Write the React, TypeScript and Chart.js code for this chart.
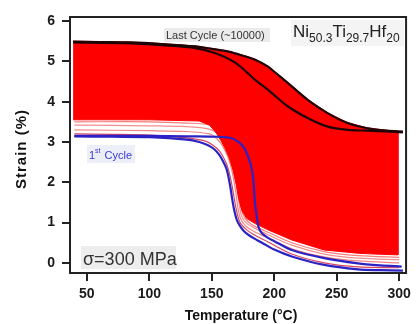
import React, { useEffect, useRef } from "react";
import { Chart, registerables } from "chart.js";

Chart.register(...registerables);

const tempTicks = [50, 100, 150, 200, 250, 300];
const strainTicks = [0, 1, 2, 3, 4, 5, 6];

// 1st cycle (blue)
const firstCoolT = [303, 285, 267, 240, 214, 200, 193, 186, 180, 176, 172.5, 170, 168, 166.5, 164.8, 162, 159, 156, 152, 147, 140, 130, 100, 70, 40];
const firstCoolS = [-0.19, -0.18, -0.16, -0.05, 0.16, 0.33, 0.45, 0.57, 0.68, 0.78, 0.92, 1.07, 1.3, 1.55, 1.89, 2.31, 2.52, 2.68, 2.82, 2.92, 3.0, 3.06, 3.12, 3.13, 3.14];
const firstHeatT = [40, 70, 100, 130, 155, 165, 171, 176, 179, 181.5, 183, 184.6, 186, 187.3, 190, 195, 200, 214, 240, 267, 285, 302];
const firstHeatS = [3.15, 3.15, 3.15, 3.14, 3.13, 3.1, 3.01, 2.85, 2.64, 2.4, 2.14, 1.48, 1.15, 0.9, 0.74, 0.62, 0.54, 0.32, 0.12, -0.01, -0.06, -0.09];

// last cycle (~10000, black)
const lastHeatT = [39, 60, 84, 110, 137, 150, 163.5, 175, 184.7, 195, 200.5, 211, 227, 243, 258.7, 274.6, 290, 303];
const lastHeatS = [5.49, 5.48, 5.47, 5.43, 5.37, 5.31, 5.24, 5.14, 5.04, 4.87, 4.73, 4.46, 4.04, 3.71, 3.47, 3.34, 3.28, 3.26];
const lastCoolT = [303, 290, 274.6, 258.7, 243, 227, 211, 195, 184.7, 169, 153, 137, 110, 80, 39];
const lastCoolS = [3.24, 3.26, 3.28, 3.3, 3.38, 3.59, 3.88, 4.29, 4.54, 4.96, 5.2, 5.33, 5.4, 5.45, 5.47];

// envelope of the intermediate cycles (red band)
const bandT = [39, 60, 84, 110, 137, 150, 163.5, 175, 184.7, 195, 200.5, 211, 227, 243, 258.7, 274.6, 290, 299, 299, 280, 267, 240, 214, 195, 185, 178, 174, 171.5, 169.5, 167, 164, 160.5, 157, 153, 148, 140, 100, 39];
const bandS = [5.5, 5.49, 5.48, 5.44, 5.38, 5.32, 5.25, 5.15, 5.05, 4.88, 4.74, 4.47, 4.05, 3.72, 3.48, 3.35, 3.29, 3.27, 0.2, 0.22, 0.24, 0.32, 0.57, 0.82, 0.97, 1.1, 1.3, 1.6, 1.95, 2.3, 2.6, 2.85, 3.05, 3.25, 3.42, 3.52, 3.55, 3.55];

// early cycles (light red lines)
const earlyAT = [300, 267, 240, 214, 195, 186, 178, 173, 170.5, 168.5, 166, 163, 160, 156, 151, 145, 130, 100, 70, 40];
const earlyAS = [-0.12, -0.1, 0.0, 0.22, 0.52, 0.66, 0.82, 0.98, 1.2, 1.5, 1.95, 2.35, 2.58, 2.78, 2.92, 3.02, 3.1, 3.17, 3.19, 3.2];
const earlyBT = [300, 267, 240, 214, 195, 185, 177, 173, 171, 169, 166, 163, 159, 154, 148, 130, 100, 40];
const earlyBS = [0.0, 0.05, 0.15, 0.35, 0.62, 0.76, 0.92, 1.1, 1.35, 1.8, 2.3, 2.62, 2.88, 3.08, 3.2, 3.26, 3.28, 3.3];
const earlyCT = [300, 267, 240, 214, 195, 185, 178, 174, 172, 170, 167, 164, 160, 155, 148, 130, 100, 40];
const earlyCS = [0.08, 0.12, 0.22, 0.44, 0.7, 0.85, 0.98, 1.15, 1.45, 1.9, 2.35, 2.7, 2.98, 3.2, 3.32, 3.38, 3.4, 3.42];
const earlyDT = [300, 267, 240, 214, 195, 185, 179, 175, 173, 171, 168, 165, 161, 156, 149, 130, 100, 40];
const earlyDS = [0.14, 0.18, 0.28, 0.5, 0.76, 0.9, 1.02, 1.2, 1.5, 1.95, 2.4, 2.75, 3.05, 3.28, 3.42, 3.47, 3.5, 3.5];

const xy = (t: number[], s: number[]) => t.map((x, i) => ({ x, y: s[i] }));

const FONT = "'Liberation Sans', Arial, Helvetica, sans-serif";

const annotPlugin = {
  id: "annot",
  afterDraw(chart: any) {
    const { ctx, chartArea: a } = chart;
    ctx.save();
    ctx.strokeStyle = "#222";
    ctx.lineWidth = 2;
    ctx.strokeRect(a.left, a.top, a.right - a.left, a.bottom - a.top);

    const box = (x: number, y: number, w: number, h: number, c: string) => {
      ctx.fillStyle = c;
      ctx.fillRect(x, y, w, h);
    };

    ctx.textBaseline = "alphabetic";
    ctx.textAlign = "left";

    box(164, 28, 106, 14, "#ebebeb");
    ctx.fillStyle = "#333";
    ctx.font = `11px ${FONT}`;
    ctx.fillText("Last Cycle (~10000)", 166, 39);

    box(291, 20, 113, 26, "#f4f4f4");
    let x = 293;
    const parts: [string, boolean][] = [["Ni", false], ["50.3", true], ["Ti", false], ["29.7", true], ["Hf", false], ["20", true]];
    ctx.fillStyle = "#222";
    for (const [t, sub] of parts) {
      ctx.font = sub ? `12px ${FONT}` : `17px ${FONT}`;
      ctx.fillText(t, x, sub ? 42 : 37);
      x += ctx.measureText(t).width;
    }

    box(87, 145, 48, 18, "#eceef8");
    ctx.fillStyle = "#3a3ad0";
    ctx.font = `11px ${FONT}`;
    let cx = 89;
    ctx.fillText("1", cx, 159);
    cx += ctx.measureText("1").width;
    ctx.font = `7px ${FONT}`;
    ctx.fillText("st", cx, 153);
    cx += ctx.measureText("st").width + 1;
    ctx.font = `11px ${FONT}`;
    ctx.fillText(" Cycle", cx, 159);

    box(81, 246, 95, 23, "#ededed");
    ctx.fillStyle = "#333";
    ctx.font = `18px ${FONT}`;
    ctx.fillText("σ=300 MPa", 83, 265);

    ctx.fillStyle = "#111";
    ctx.font = `bold 14px ${FONT}`;
    ctx.textAlign = "center";
    ctx.fillText("Temperature (°C)", 241, 320);

    ctx.save();
    ctx.translate(26, 149);
    ctx.rotate(-Math.PI / 2);
    ctx.font = `bold 15px ${FONT}`;
    try { (ctx as any).letterSpacing = "1px"; } catch (e) {}
    ctx.fillText("Strain (%)", 0, 0);
    ctx.restore();

    ctx.restore();
  },
};

export default function App() {
  const ref = useRef<HTMLCanvasElement>(null);
  useEffect(() => {
    document.body.style.margin = "0";
    const line = (data: any, color: string, width: number, order: number, extra: any = {}) => ({
      data,
      borderColor: color,
      backgroundColor: color,
      borderWidth: width,
      pointRadius: 0,
      tension: 0.3,
      fill: false,
      order,
      ...extra,
    });
    const chart = new Chart(ref.current as HTMLCanvasElement, {
      type: "line",
      data: {
        datasets: [
          line(xy(firstCoolT, firstCoolS), "#2a22c4", 2.2, 0),
          line(xy(firstHeatT, firstHeatS), "#2a22c4", 2.2, 0),
          line(xy(lastHeatT, lastHeatS), "#1e0505", 2.2, 1),
          line(xy(lastCoolT, lastCoolS), "#1e0505", 2.2, 1),
          line(xy(bandT, bandS), "#ff0000", 1, 3, { fill: "shape", tension: 0, backgroundColor: "#ff0000" }),
          line(xy(earlyAT, earlyAS), "rgba(210,50,80,0.9)", 1.2, 4),
          line(xy(earlyBT, earlyBS), "rgba(240,110,110,0.85)", 1.2, 4),
          line(xy(earlyCT, earlyCS), "rgba(245,120,120,0.85)", 1.2, 4),
          line(xy(earlyDT, earlyDS), "rgba(248,100,100,0.85)", 1.2, 4),
        ],
      },
      options: {
        animation: false,
        responsive: false,
        devicePixelRatio: 1,
        layout: { padding: { left: 0, top: 17, right: 6, bottom: 0 } },
        plugins: { legend: { display: false }, tooltip: { enabled: false }, title: { display: false } },
        scales: {
          x: {
            type: "linear",
            min: 36.5,
            max: 305.5,
            afterFit: (s: any) => { s.height = 51; },
            afterBuildTicks: (s: any) => { s.ticks = tempTicks.map((v) => ({ value: v })); },
            grid: { drawOnChartArea: false, drawTicks: true, tickLength: 8, tickColor: "#222", lineWidth: 2 },
            border: { display: true, color: "#222", width: 2 },
            ticks: { color: "#1a1a1a", font: { family: FONT, size: 14, weight: "bold" }, padding: 5, maxRotation: 0 },
          },
          y: {
            type: "linear",
            min: -0.25,
            max: 6.1,
            afterFit: (s: any) => { s.width = 70; },
            afterBuildTicks: (s: any) => { s.ticks = strainTicks.map((v) => ({ value: v })); },
            grid: { drawOnChartArea: false, drawTicks: true, tickLength: 8, tickColor: "#222", lineWidth: 2 },
            border: { display: true, color: "#222", width: 2 },
            ticks: { color: "#1a1a1a", font: { family: FONT, size: 14, weight: "bold" }, padding: 7 },
          },
        },
      },
      plugins: [annotPlugin],
    } as any);
    return () => chart.destroy();
  }, []);
  return (
    <div style={{ position: "fixed", left: 0, top: 0, width: 416, height: 324, background: "#fff" }}>
      <canvas ref={ref} width={416} height={324} />
    </div>
  );
}
